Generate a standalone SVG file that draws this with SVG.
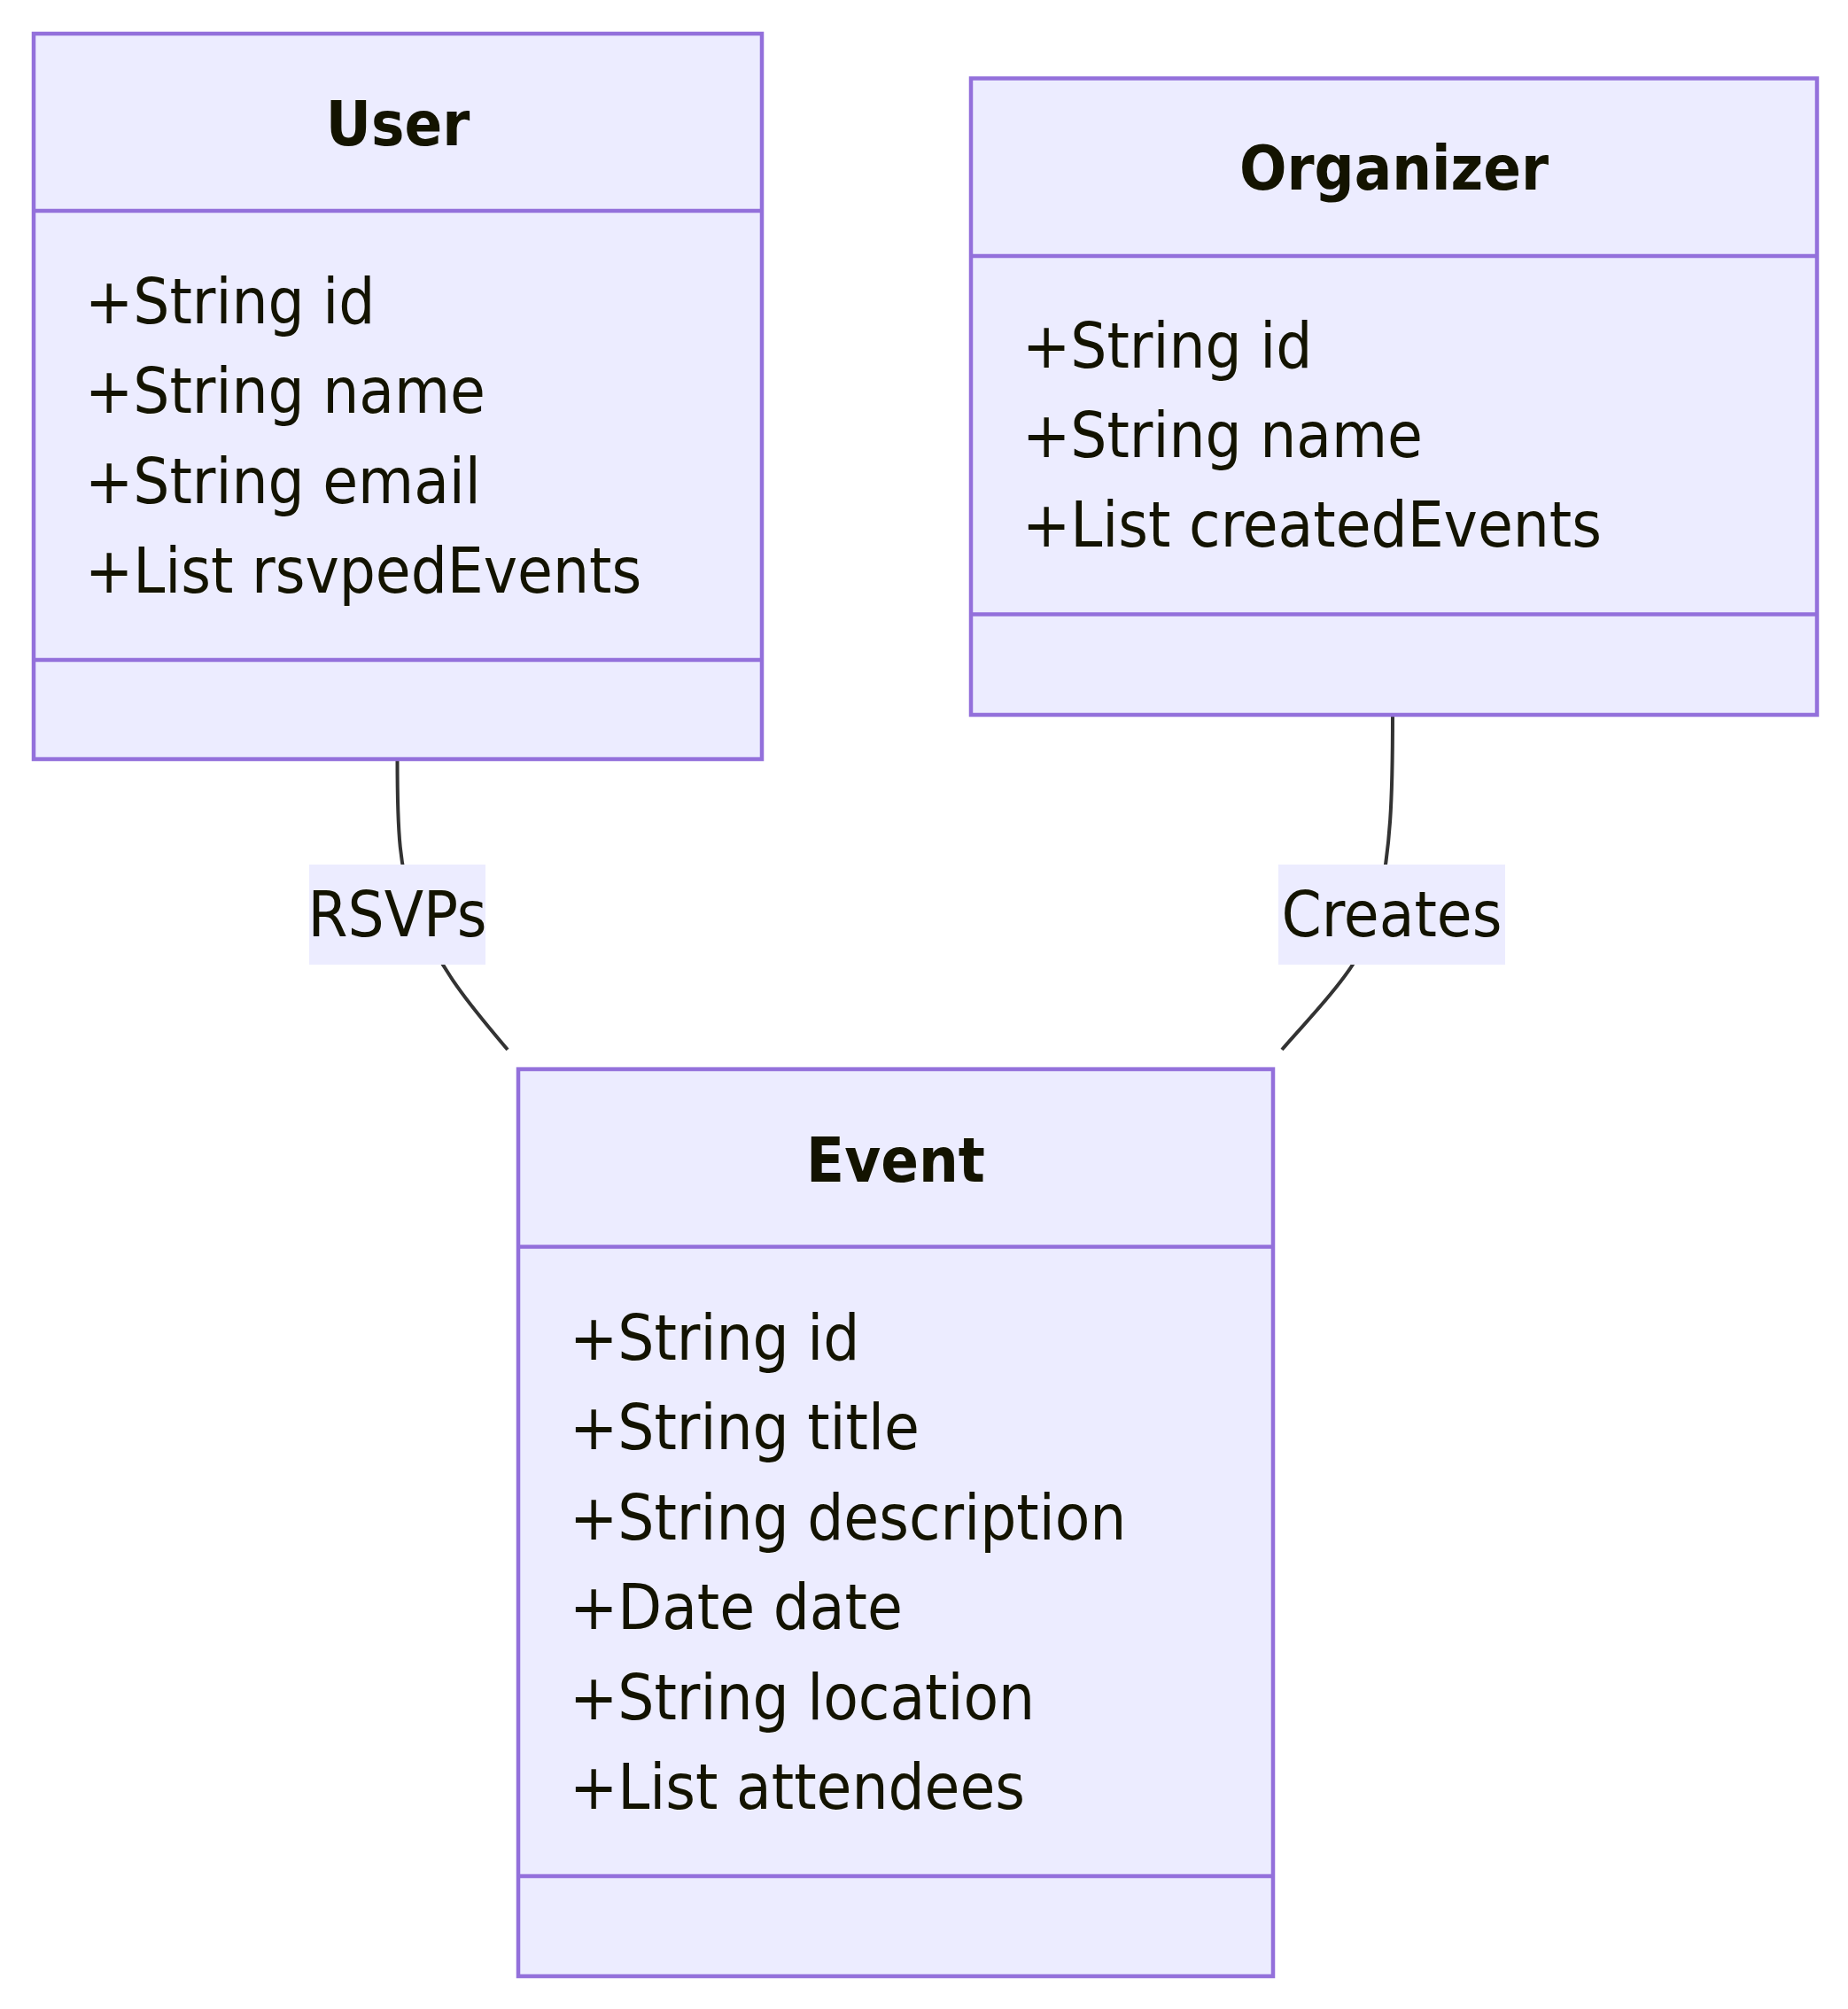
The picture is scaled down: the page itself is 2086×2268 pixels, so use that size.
<svg xmlns="http://www.w3.org/2000/svg" width="2086" height="2268" viewBox="0 0 2086 2268">
<style>
  .box { fill: #ECECFF; stroke: #9370DB; stroke-width: 4.5; }
  .div { stroke: #9370DB; stroke-width: 4.5; fill: none; }
  .title { font-family: "DejaVu Sans Condensed", "DejaVu Sans", sans-serif; font-stretch: condensed; font-weight: bold; font-size: 70px; fill: #131300; text-anchor: middle; }
  .attr { font-family: "DejaVu Sans Condensed", "DejaVu Sans", sans-serif; font-stretch: condensed; font-size: 72px; fill: #131300; }
  .edge { fill: none; stroke: #333333; stroke-width: 4; }
  .lblbg { fill: #ECECFF; }
  .lbl { font-family: "DejaVu Sans Condensed", "DejaVu Sans", sans-serif; font-stretch: condensed; font-size: 72px; fill: #131300; text-anchor: middle; }
</style>
<rect width="2086" height="2268" fill="#ffffff"/>
<g id="connectors">
  <path class="edge" d="M448.5,857 C448.5,935 450,985 470,1032 C500,1100 535,1140 573,1185"/>
  <path class="edge" d="M1572,807 C1572,900 1570,960 1555,1025 C1540,1090 1490,1135 1447,1185"/>
</g>
<g id="User">
  <rect class="box" x="38" y="38" width="822" height="819"/>
  <line class="div" x1="38" y1="238" x2="860" y2="238"/>
  <line class="div" x1="38" y1="745" x2="860" y2="745"/>
  <text class="title" x="449" y="164">User</text>
  <text class="attr" x="96" y="364.5">+String id</text>
  <text class="attr" x="96" y="466">+String name</text>
  <text class="attr" x="96" y="567.5">+String email</text>
  <text class="attr" x="96" y="669">+List rsvpedEvents</text>
</g>
<g id="Organizer">
  <rect class="box" x="1096" y="88.5" width="955" height="718.5"/>
  <line class="div" x1="1096" y1="289" x2="2051" y2="289"/>
  <line class="div" x1="1096" y1="693.5" x2="2051" y2="693.5"/>
  <text class="title" x="1573.5" y="213.5">Organizer</text>
  <text class="attr" x="1154" y="415">+String id</text>
  <text class="attr" x="1154" y="516">+String name</text>
  <text class="attr" x="1154" y="617">+List createdEvents</text>
</g>
<g id="Event">
  <rect class="box" x="585" y="1207" width="852" height="1024"/>
  <line class="div" x1="585" y1="1407.5" x2="1437" y2="1407.5"/>
  <line class="div" x1="585" y1="2118" x2="1437" y2="2118"/>
  <text class="title" x="1011" y="1334">Event</text>
  <text class="attr" x="643" y="1534.5">+String id</text>
  <text class="attr" x="643" y="1636">+String title</text>
  <text class="attr" x="643" y="1737.5">+String description</text>
  <text class="attr" x="643" y="1839">+Date date</text>
  <text class="attr" x="643" y="1940.5">+String location</text>
  <text class="attr" x="643" y="2042">+List attendees</text>
</g>
<g id="label-rsvps">
  <rect class="lblbg" x="349" y="976" width="199" height="113"/>
  <text class="lbl" x="448.5" y="1056.5">RSVPs</text>
</g>
<g id="label-creates">
  <rect class="lblbg" x="1443" y="976" width="256" height="113"/>
  <text class="lbl" x="1571" y="1056.5">Creates</text>
</g>
</svg>
